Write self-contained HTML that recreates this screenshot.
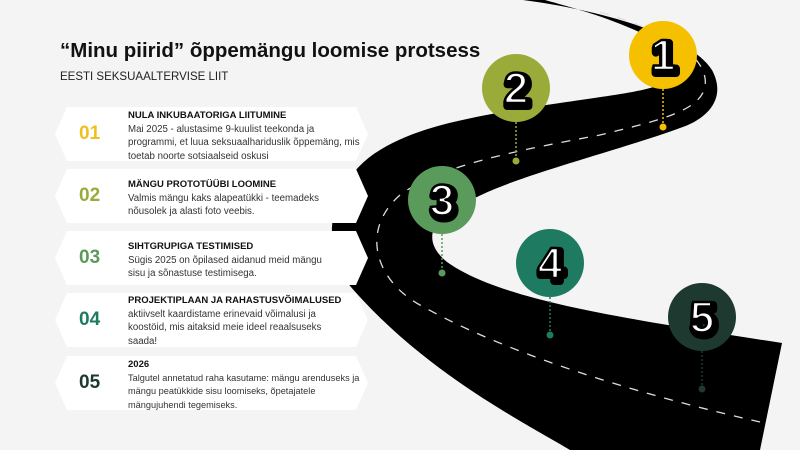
<!DOCTYPE html>
<html><head><style>
body{margin:0;width:800px;height:450px;background:#f4f4f4;overflow:hidden;position:relative;font-family:"Liberation Sans",sans-serif}
.t{position:absolute;left:60px;top:39px;font-size:20.5px;font-weight:bold;color:#111;white-space:nowrap}
.s{position:absolute;left:60px;top:71px;font-size:11.5px;color:#222}
.card{position:absolute;left:55px;width:313px;height:54px;background:#fff;clip-path:polygon(12px 0,301px 0,313px 50%,301px 100%,12px 100%,0 50%);}
.n{position:absolute;left:24px;top:0;height:100%;display:flex;align-items:center;font-size:19px;font-weight:bold}
.tx{position:absolute;left:73px;top:2px;font-size:9.7px;line-height:13.5px;color:#333;white-space:nowrap}
.tx b{color:#111;font-size:9.5px}
svg{position:absolute;left:0;top:0}
</style></head><body>
<svg width="800" height="450">
<path d="M523,0 C600,10 690,35 712,70 C728,100 705,120 680,128 C620,150 520,175 477,197 C430,215 420,240 447,262 C500,300 620,318 782,343 L760,450 L570,450 C520,420 420,370 345,280 C320,240 330,180 380,150 C420,125 480,115 560,103 C620,94 660,90 672,78 C690,60 660,40 630,28 C600,15 570,7 545,0 Z" fill="#000"/>
<path d="M600,12 C660,30 700,50 705,78 C710,110 660,120 600,135 C520,150 440,165 400,195 C360,230 375,280 420,305 C500,350 620,390 760,422" fill="none" stroke="#ddd" stroke-width="1.3" stroke-dasharray="9,9"/>
<g stroke-dasharray="2,2" stroke-width="1.5">
<line x1="663" y1="85" x2="663" y2="127" stroke="#f5c000"/><circle cx="663" cy="127" r="3.5" fill="#f5c000"/>
<line x1="516" y1="118" x2="516" y2="161" stroke="#9aab3a"/><circle cx="516" cy="161" r="3.5" fill="#9aab3a"/>
<line x1="442" y1="230" x2="442" y2="273" stroke="#5a9a5a"/><circle cx="442" cy="273" r="3.5" fill="#5a9a5a"/>
<line x1="550" y1="293" x2="550" y2="335" stroke="#1e7a60"/><circle cx="550" cy="335" r="3.5" fill="#1e7a60"/>
<line x1="702" y1="347" x2="702" y2="389" stroke="#1e3a30"/><circle cx="702" cy="389" r="3.5" fill="#1e3a30"/>
</g>
<g font-family="Liberation Sans,sans-serif" font-weight="bold" font-size="44" text-anchor="middle" stroke-linejoin="round">
<circle cx="663" cy="55" r="34" fill="#f5c000"/>
<text x="665" y="73" fill="#000" stroke="#000" stroke-width="8">1</text><text x="663" y="70" fill="#fff" stroke="#000" stroke-width="2.5">1</text>
<circle cx="516" cy="88" r="34" fill="#9aab3a"/>
<text x="518" y="106" fill="#000" stroke="#000" stroke-width="8">2</text><text x="516" y="103" fill="#fff" stroke="#000" stroke-width="2.5">2</text>
<circle cx="442" cy="200" r="34" fill="#5a9a5a"/>
<text x="444" y="218" fill="#000" stroke="#000" stroke-width="8">3</text><text x="442" y="215" fill="#fff" stroke="#000" stroke-width="2.5">3</text>
<circle cx="550" cy="263" r="34" fill="#1e7a60"/>
<text x="552" y="281" fill="#000" stroke="#000" stroke-width="8">4</text><text x="550" y="278" fill="#fff" stroke="#000" stroke-width="2.5">4</text>
<circle cx="702" cy="317" r="34" fill="#1e3a30"/>
<text x="704" y="335" fill="#000" stroke="#000" stroke-width="8">5</text><text x="702" y="332" fill="#fff" stroke="#000" stroke-width="2.5">5</text>
</g>
</svg>
<div class="t">“Minu piirid” õppemängu loomise protsess</div>
<div class="s">EESTI SEKSUAALTERVISE LIIT</div>
<div class="card" style="top:107px"><div class="n" style="color:#f0c020">01</div><div class="tx"><b>NULA INKUBAATORIGA LIITUMINE</b><br>Mai 2025 - alustasime 9-kuulist teekonda ja<br>programmi, et luua seksuaalhariduslik õppemäng, mis<br>toetab noorte sotsiaalseid oskusi</div></div>
<div class="card" style="top:169px"><div class="n" style="color:#9aab3a">02</div><div class="tx" style="top:9px"><b>MÄNGU PROTOTÜÜBI LOOMINE</b><br>Valmis mängu kaks alapeatükki - teemadeks<br>nõusolek ja alasti foto veebis.</div></div>
<div class="card" style="top:231px"><div class="n" style="color:#5a9a5a">03</div><div class="tx" style="top:9px"><b>SIHTGRUPIGA TESTIMISED</b><br>Sügis 2025 on õpilased aidanud meid mängu<br>sisu ja sõnastuse testimisega.</div></div>
<div class="card" style="top:293px"><div class="n" style="color:#1e7a60">04</div><div class="tx" style="top:1px"><b>PROJEKTIPLAAN JA RAHASTUSVÕIMALUSED</b><br>aktiivselt kaardistame erinevaid võimalusi ja<br>koostöid, mis aitaksid meie ideel reaalsuseks<br>saada!</div></div>
<div class="card" style="top:356px"><div class="n" style="color:#1e3a30">05</div><div class="tx" style="font-size:9.2px"><b>2026</b><br>Talgutel annetatud raha kasutame: mängu arenduseks ja<br>mängu peatükkide sisu loomiseks, õpetajatele<br>mängujuhendi tegemiseks.</div></div>
</body></html>
